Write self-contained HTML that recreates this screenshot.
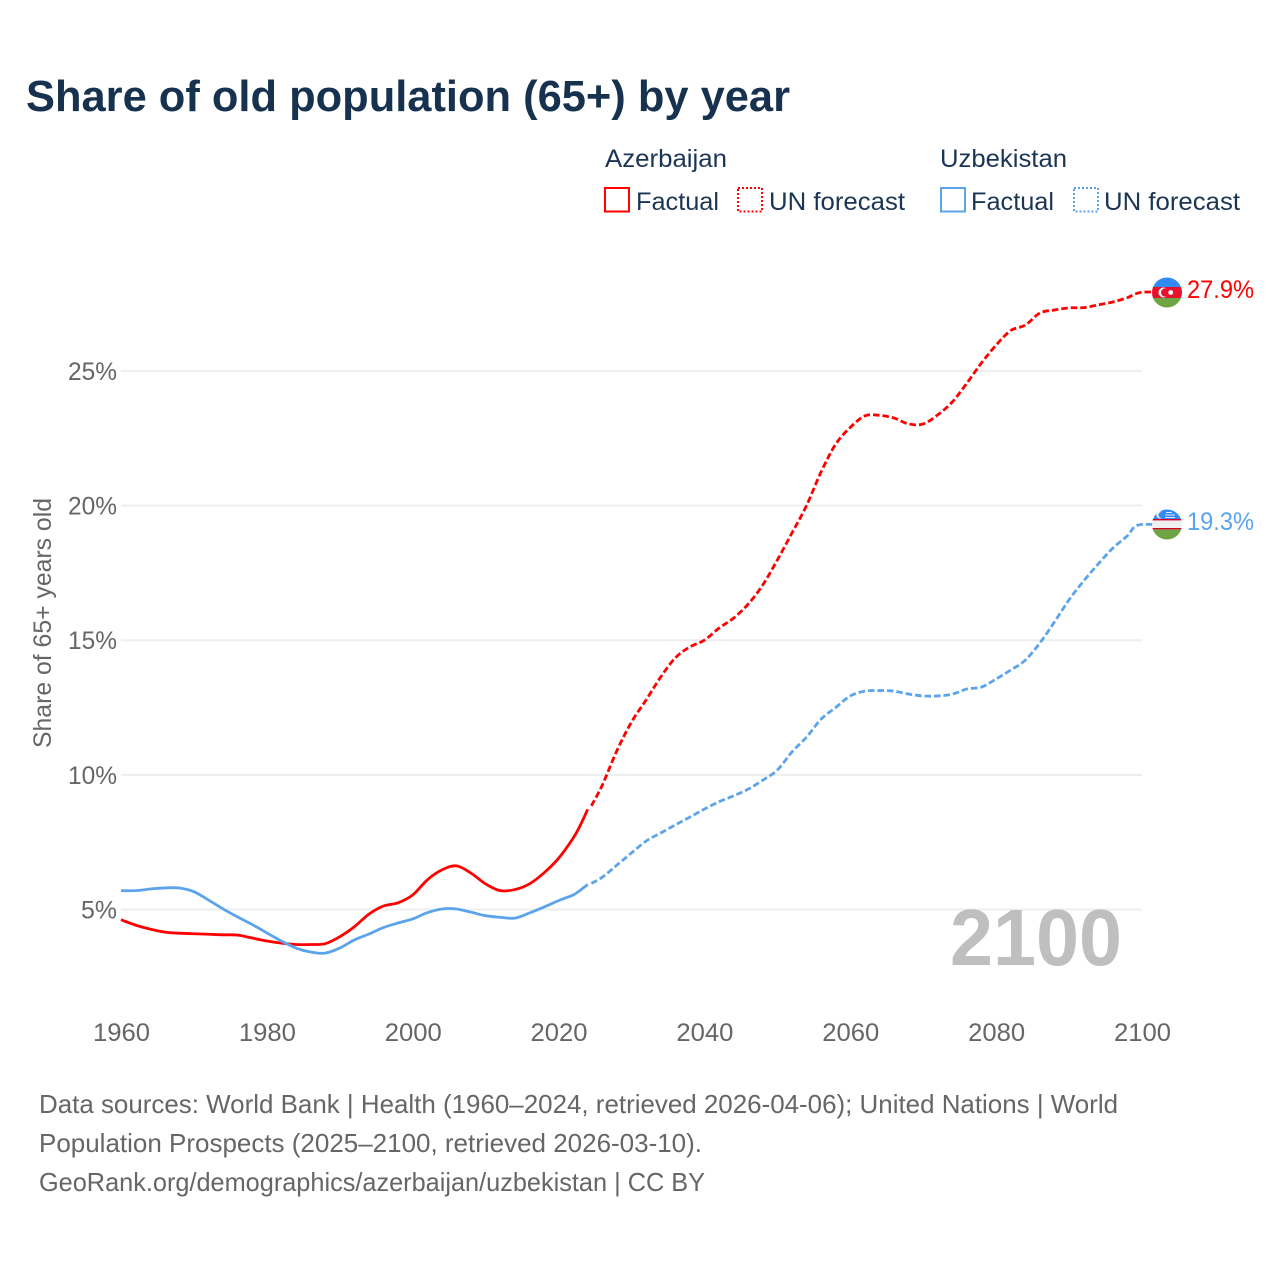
<!DOCTYPE html>
<html lang="en">
<head>
<meta charset="utf-8">
<title>Share of old population (65+) by year</title>
<style>
html,body{margin:0;padding:0;background:#fff;width:1280px;height:1280px;overflow:hidden}
svg{display:block}
text{font-family:"Liberation Sans",sans-serif}
</style>
</head>
<body>
<svg id="chart" xmlns="http://www.w3.org/2000/svg" width="1280" height="1280" viewBox="0 0 1280 1280">
  <defs>
    <clipPath id="clip-az"><circle cx="1167" cy="292.5" r="15"/></clipPath>
    <clipPath id="clip-uz"><circle cx="1167" cy="524.5" r="15"/></clipPath>
  </defs>
  <rect width="1280" height="1280" fill="#fff"/>
  <text x="26" y="111" font-size="44" font-weight="700" fill="#17324f" textLength="764" lengthAdjust="spacingAndGlyphs">Share of old population (65+) by year</text>

  <g font-size="25" fill="#1b3555">
    <text x="605" y="167" textLength="122" lengthAdjust="spacingAndGlyphs">Azerbaijan</text>
    <rect x="605" y="188" width="24" height="23.5" fill="none" stroke="#ff0000" stroke-width="2"/>
    <text x="636" y="210" textLength="83" lengthAdjust="spacingAndGlyphs">Factual</text>
    <rect x="738" y="188" width="24" height="23.5" fill="none" stroke="#ff0000" stroke-width="2" stroke-dasharray="2 2"/>
    <text x="769" y="210" textLength="136" lengthAdjust="spacingAndGlyphs">UN forecast</text>
    <text x="940" y="167" textLength="127" lengthAdjust="spacingAndGlyphs">Uzbekistan</text>
    <rect x="941" y="188" width="24" height="23.5" fill="none" stroke="#5ba4ec" stroke-width="2"/>
    <text x="971" y="210" textLength="83" lengthAdjust="spacingAndGlyphs">Factual</text>
    <rect x="1074" y="188" width="24" height="23.5" fill="none" stroke="#5ba4ec" stroke-width="2" stroke-dasharray="2 2"/>
    <text x="1104" y="210" textLength="136" lengthAdjust="spacingAndGlyphs">UN forecast</text>
  </g>

  <text transform="translate(51,623) rotate(-90)" text-anchor="middle" font-size="25" fill="#666" textLength="250" lengthAdjust="spacingAndGlyphs">Share of 65+ years old</text>

  <g id="grid"></g>
  <g id="yticks"></g>
  <g id="xticks"></g>

  <text x="950" y="965" font-size="80" font-weight="700" fill="#bfbfbf" textLength="172" lengthAdjust="spacingAndGlyphs">2100</text>

  <g id="series"></g>

  <g clip-path="url(#clip-az)">
    <rect x="1152" y="277" width="30" height="10.5" fill="#338af3"/>
    <rect x="1152" y="287" width="30" height="11.5" fill="#e8112d"/>
    <rect x="1152" y="298" width="30" height="10.5" fill="#6da544"/>
    <circle cx="1163.5" cy="292.5" r="5" fill="#fff"/>
    <circle cx="1165.2" cy="292.5" r="4.2" fill="#e8112d"/>
    <circle cx="1170.7" cy="292.5" r="2.4" fill="#fff"/>
  </g>
  <g clip-path="url(#clip-uz)">
    <rect x="1152" y="509" width="30" height="10.5" fill="#338af3"/>
    <rect x="1152" y="519" width="30" height="11" fill="#f0f0f0"/>
    <rect x="1152" y="519" width="30" height="1.4" fill="#d80027"/>
    <rect x="1152" y="528" width="30" height="1.4" fill="#d80027"/>
    <rect x="1152" y="529.4" width="30" height="11" fill="#6da544"/>
    <circle cx="1160" cy="515" r="3.6" fill="#f0f0f0"/>
    <circle cx="1161.5" cy="515" r="3" fill="#338af3"/>
    <rect x="1166" y="512" width="6" height="1" fill="#dbe9fb"/>
    <rect x="1165" y="514.5" width="10" height="1" fill="#dbe9fb"/>
    <rect x="1165" y="517" width="10" height="1" fill="#dbe9fb"/>
  </g>

  <text id="label-az" x="1187" y="298" font-size="25" fill="#ff0000" textLength="67" lengthAdjust="spacingAndGlyphs"></text>
  <text id="label-uz" x="1187" y="530" font-size="25" fill="#5ba4ec" textLength="67" lengthAdjust="spacingAndGlyphs"></text>

  <g font-size="26" fill="#666">
    <text x="39" y="1113" textLength="1079" lengthAdjust="spacingAndGlyphs">Data sources: World Bank | Health (1960–2024, retrieved 2026-04-06); United Nations | World</text>
    <text x="39" y="1152" textLength="663" lengthAdjust="spacingAndGlyphs">Population Prospects (2025–2100, retrieved 2026-03-10).</text>
    <text x="39" y="1191" textLength="666" lengthAdjust="spacingAndGlyphs">GeoRank.org/demographics/azerbaijan/uzbekistan | CC BY</text>
  </g>
</svg>
<script>
const yTickValues = [5, 10, 15, 20, 25];
const xTickYears = [1960, 1980, 2000, 2020, 2040, 2060, 2080, 2100];

const factualYears = [1960,1962,1964,1966,1968,1970,1972,1974,1976,1978,1980,1982,1984,1986,1988,1990,1992,1994,1996,1998,2000,2002,2004,2006,2008,2010,2012,2014,2016,2018,2020,2022,2023,2024];
const azerbaijanFactual = [4.62,4.42,4.27,4.16,4.12,4.10,4.08,4.06,4.05,3.94,3.83,3.75,3.70,3.70,3.73,3.99,4.36,4.83,5.13,5.25,5.54,6.10,6.47,6.62,6.35,5.95,5.70,5.74,5.95,6.36,6.90,7.65,8.14,8.72];
const uzbekistanFactual = [5.70,5.70,5.76,5.80,5.80,5.66,5.35,5.02,4.72,4.44,4.13,3.83,3.57,3.42,3.38,3.57,3.87,4.09,4.33,4.50,4.65,4.88,5.02,5.02,4.90,4.77,4.71,4.68,4.87,5.09,5.33,5.54,5.72,5.93];

const forecastYears = [2024.5,2026,2028,2030,2032,2034,2036,2038,2040,2042,2044,2046,2048,2050,2052,2054,2056,2058,2060,2062,2064,2066,2068,2070,2072,2074,2076,2078,2080,2082,2084,2086,2088,2090,2092,2094,2096,2098,2099,2100];
const azerbaijanForecast = [8.85,9.62,10.90,11.96,12.78,13.63,14.34,14.75,15.00,15.45,15.82,16.34,17.05,17.98,18.98,20.00,21.25,22.28,22.90,23.33,23.35,23.25,23.03,23.03,23.37,23.85,24.55,25.30,25.96,26.50,26.70,27.15,27.26,27.34,27.35,27.45,27.56,27.72,27.85,27.93];
const uzbekistanForecast = [5.97,6.20,6.65,7.10,7.54,7.84,8.14,8.43,8.73,9.00,9.22,9.47,9.80,10.18,10.85,11.40,12.07,12.50,12.93,13.11,13.13,13.11,13.00,12.93,12.93,13.00,13.19,13.26,13.56,13.89,14.26,14.90,15.68,16.50,17.20,17.83,18.42,18.88,19.22,19.30];

const NS = 'http://www.w3.org/2000/svg';
const X0 = 121, X1 = 1142, YEAR0 = 1960, YEAR1 = 2100;
const Y5 = 909.5, PX_PER_PCT = 26.93;
function xScale(year) { return X0 + (year - YEAR0) * (X1 - X0) / (YEAR1 - YEAR0); }
function yScale(pct) { return Y5 - (pct - 5) * PX_PER_PCT; }

function curvePath(years, values) {
  const pts = years.map((yr, i) => [xScale(yr), yScale(values[i])]);
  let d = 'M' + pts[0][0].toFixed(2) + ' ' + pts[0][1].toFixed(2);
  for (let i = 0; i < pts.length - 1; i++) {
    const p0 = pts[Math.max(0, i - 1)], p1 = pts[i], p2 = pts[i + 1], p3 = pts[Math.min(pts.length - 1, i + 2)];
    const c1x = p1[0] + (p2[0] - p0[0]) / 6, c1y = p1[1] + (p2[1] - p0[1]) / 6;
    const c2x = p2[0] - (p3[0] - p1[0]) / 6, c2y = p2[1] - (p3[1] - p1[1]) / 6;
    d += 'C' + c1x.toFixed(2) + ' ' + c1y.toFixed(2) + ' ' + c2x.toFixed(2) + ' ' + c2y.toFixed(2) + ' ' + p2[0].toFixed(2) + ' ' + p2[1].toFixed(2);
  }
  return d;
}

const grid = document.getElementById('grid');
const yticks = document.getElementById('yticks');
yTickValues.forEach(function (v) {
  const line = document.createElementNS(NS, 'line');
  
  
  line.setAttribute('x1', X0);
  line.setAttribute('x2', X1);
  line.setAttribute('y1', yScale(v));
  line.setAttribute('y2', yScale(v));
  line.setAttribute('stroke', '#eeeeee');
  line.setAttribute('stroke-width', '2');
  grid.appendChild(line);
  const t = document.createElementNS(NS, 'text');
  
  
  t.setAttribute('x', 117);
  t.setAttribute('y', yScale(v) + 9);
  t.setAttribute('text-anchor', 'end');
  t.setAttribute('font-size', '25');
  t.setAttribute('fill', '#666');
  t.setAttribute('textLength', v < 10 ? 36 : 49);
  t.setAttribute('lengthAdjust', 'spacingAndGlyphs');
  t.textContent = v + '%';
  yticks.appendChild(t);
});

const xticks = document.getElementById('xticks');
xTickYears.forEach(function (yr) {
  const t = document.createElementNS(NS, 'text');
  
  
  t.setAttribute('x', xScale(yr) + 0.5);
  t.setAttribute('y', 1041);
  t.setAttribute('text-anchor', 'middle');
  t.setAttribute('font-size', '25');
  t.setAttribute('fill', '#666');
  t.setAttribute('textLength', 57);
  t.setAttribute('lengthAdjust', 'spacingAndGlyphs');
  t.textContent = yr;
  xticks.appendChild(t);
});

const seriesGroup = document.getElementById('series');
function addLine(name, years, values, color, dashed) {
  const p = document.createElementNS(NS, 'path');
  
  
  p.setAttribute('d', curvePath(years, values) + (dashed ? 'H1155' : ''));
  p.setAttribute('fill', 'none');
  p.setAttribute('stroke', color);
  p.setAttribute('stroke-width', '2.8');
  p.setAttribute('stroke-linejoin', 'round');
  if (dashed) p.setAttribute('stroke-dasharray', '6.5 3');
  seriesGroup.appendChild(p);
}
addLine('line-azerbaijan-forecast', forecastYears, azerbaijanForecast, '#ff0000', true);
addLine('line-uzbekistan-forecast', forecastYears, uzbekistanForecast, '#5ba4ec', true);
addLine('line-azerbaijan-factual', factualYears, azerbaijanFactual, '#ff0000', false);
addLine('line-uzbekistan-factual', factualYears, uzbekistanFactual, '#5ba4ec', false);

document.getElementById('label-az').textContent = azerbaijanForecast[azerbaijanForecast.length - 1].toFixed(1) + '%';
document.getElementById('label-uz').textContent = uzbekistanForecast[uzbekistanForecast.length - 1].toFixed(1) + '%';
</script>
</body>
</html>
